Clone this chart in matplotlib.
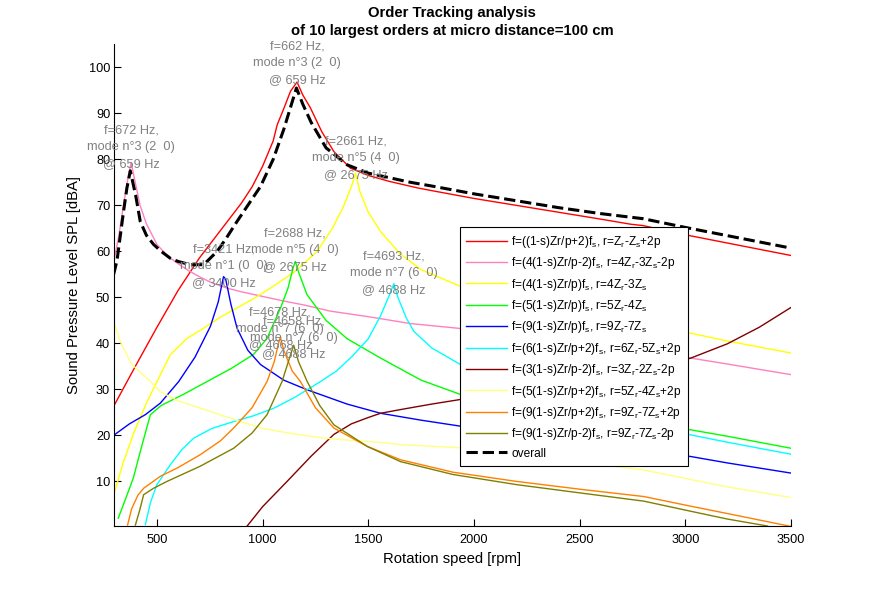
import matplotlib.pyplot as plt

plt.rcParams["font.family"] = ["Liberation Sans", "DejaVu Sans"]
plt.rcParams["mathtext.default"] = "regular"

# ---- data (rpm / dBA) ----
red_rpm = [295, 400, 500, 600, 700, 800, 900, 950, 1000, 1050, 1069, 1100, 1132, 1163,
           1190, 1226, 1280, 1337, 1415, 1500, 1600, 1732, 1800, 2000, 2200, 2400, 2600,
           2741, 2800, 3000, 3200, 3500]
red_db = [26.3, 35.2, 43.5, 51.5, 58.5, 64.5, 70.5, 74, 78.5, 84, 87.5, 91, 94.8, 96.8,
          94, 91.2, 86, 81.7, 78.1, 76.5, 75.2, 73.8, 73.2, 71.5, 70, 68.5, 67,
          65.9, 65.6, 63.6, 61.8, 59.1]

pink_rpm = [295, 320, 345, 365, 378, 395, 420, 450, 500, 550, 600, 650, 700, 753, 832,
            900, 1000, 1100, 1200, 1321, 1500, 1700, 2031, 2300, 2600, 2800, 3026, 3200, 3500]
pink_db = [57.5, 63.5, 71, 76.5, 79.3, 75.5, 70, 66, 61.5, 59, 57.3, 55.8, 54.5, 53.3, 52,
           51.2, 50.2, 49.2, 48.3, 47, 45.8, 44.3, 42.8, 41, 39.2, 38, 36.8, 35.5, 33.2]

yellow_rpm = [295, 340, 390, 450, 500, 563, 640, 721, 800, 879, 960, 1037, 1150, 1258,
              1330, 1380, 1420, 1440, 1460, 1500, 1558, 1650, 1750, 1936, 2200, 2500,
              2800, 3026, 3200, 3500]
yellow_db = [7, 14, 20.5, 27, 31.7, 37.5, 41, 43.3, 45.7, 47.7, 49.8, 52, 55.5, 60,
             65, 69.5, 74, 77, 73, 68.5, 64.3, 59.5, 56, 52.4, 48.5, 45.5,
             43.5, 42.2, 40.5, 37.9]

green_rpm = [317, 350, 388, 430, 469, 520, 625, 737, 850, 957, 1020, 1085, 1120, 1145,
             1155, 1170, 1210, 1300, 1400, 1558, 1750, 1936, 2200, 2500, 2800, 3026,
             3200, 3500]
green_db = [2, 6, 10.7, 18, 24.5, 26.5, 28.9, 31.7, 34.5, 37.6, 41, 47.7, 52, 56.5,
            57.8, 55.5, 50.6, 45, 41, 36.8, 32, 28.9, 26, 24, 22.3, 21.2,
            19.8, 17.2]

blue_rpm = [295, 370, 445, 516, 603, 680, 753, 790, 815, 825, 850, 879, 930, 990, 1100,
            1211, 1400, 1558, 1750, 1936, 2200, 2500, 2800, 3026, 3200, 3500]
blue_db = [20, 22.5, 24.5, 27, 31.7, 37, 43.7, 49, 54.5, 54, 48.5, 43.3, 38.5, 35.4, 32,
           29.9, 26.8, 24.8, 23.3, 22, 20.2, 18.3, 16.8, 15.4, 14, 11.8]

cyan_rpm = [445, 470, 500, 563, 620, 674, 760, 863, 960, 1053, 1150, 1274, 1350, 1424,
            1500, 1558, 1600, 1621, 1640, 1680, 1716, 1800, 1936, 2200, 2500, 2800,
            3026, 3200, 3500]
cyan_db = [0.6, 5.5, 9.3, 13.6, 17, 19.4, 21.5, 23, 24.3, 25.9, 28.2, 31.7, 34, 37.2,
           41, 46, 50.5, 53, 50, 45.5, 42.6, 39, 35.4, 30.5, 26.5, 22.5,
           20.1, 18.5, 15.9]

darkred_rpm = [927, 1000, 1116, 1230, 1337, 1420, 1495, 1558, 1652, 1800, 1936, 2200,
               2500, 2800, 3026, 3199, 3350, 3500]
darkred_db = [0.3, 4.5, 10, 15.5, 20.2, 22.5, 23.8, 24.8, 25.6, 26.8, 27.8, 29.5,
              31.5, 34, 36.8, 39.9, 43.5, 47.8]

lightyellow_rpm = [295, 330, 380, 469, 516, 600, 753, 863, 1000, 1150, 1289, 1450, 1558,
                   1652, 1936, 2200, 2500, 2800, 3026, 3200, 3500]
lightyellow_db = [44.8, 40, 35.5, 31.7, 29.5, 27.5, 25.2, 23.5, 21.5, 20.3, 19.4, 18.8,
                  18.5, 18, 17.3, 15.8, 14.2, 12.5, 10.4, 8.8, 6.5]

orange_rpm = [361, 380, 410, 437, 516, 600, 705, 800, 863, 950, 1021, 1055, 1075, 1084,
              1100, 1140, 1179, 1250, 1337, 1495, 1652, 1900, 2200, 2500, 2804, 3026,
              3200, 3500]
orange_db = [0.5, 4, 7, 8.5, 11.1, 13, 15.8, 18.8, 21.6, 26, 31.7, 36, 40, 41.4,
             38.5, 34, 31.7, 26, 21.6, 17.6, 14.7, 12, 10, 8.3, 6.7, 4.6,
             3, 0.2]

olive_rpm = [398, 420, 437, 484, 548, 705, 863, 950, 1021, 1092, 1125, 1147, 1170, 1211,
             1270, 1337, 1495, 1652, 1900, 2200, 2500, 2804, 3026, 3200, 3389]
olive_db = [0.5, 4, 7.1, 8.5, 10, 13.3, 17.2, 20.5, 24.5, 31.7, 36.5, 39.6, 36, 31.7,
            26.5, 22.3, 17.6, 14.3, 11.5, 9.3, 7.5, 5.7, 3.5, 1.8, 0.3]

overall_rpm = [295, 311, 342, 358, 374, 400, 421, 450, 484, 520, 563, 600, 658, 721, 785,
               830, 879, 930, 990, 1050, 1100, 1130, 1160, 1190, 1230, 1300, 1400, 1500,
               1600, 1700, 1800, 2000, 2200, 2400, 2600, 2800, 3000, 3200, 3500]
overall_db = [55, 58, 68.7, 73.8, 77.5, 72, 66.5, 63.5, 61.5, 60, 58.5, 57.8, 57.1, 57.1, 60,
              63, 66.5, 70, 74.1, 80, 86.5, 91, 95.5, 92, 88, 82.5, 78.8, 77,
              76, 75, 74.2, 72.5, 71, 69.5, 68.2, 67.1, 65.2, 63.4, 60.7]

labels = [
    r"f=((1-s)Zr/p+2)f$_s$, r=Z$_r$-Z$_s$+2p",
    r"f=(4(1-s)Zr/p-2)f$_s$, r=4Z$_r$-3Z$_s$-2p",
    r"f=(4(1-s)Zr/p)f$_s$, r=4Z$_r$-3Z$_s$",
    r"f=(5(1-s)Zr/p)f$_s$, r=5Z$_r$-4Z$_s$",
    r"f=(9(1-s)Zr/p)f$_s$, r=9Z$_r$-7Z$_s$",
    r"f=(6(1-s)Zr/p+2)f$_s$, r=6Z$_r$-5Z$_s$+2p",
    r"f=(3(1-s)Zr/p-2)f$_s$, r=3Z$_r$-2Z$_s$-2p",
    r"f=(5(1-s)Zr/p+2)f$_s$, r=5Z$_r$-4Z$_s$+2p",
    r"f=(9(1-s)Zr/p+2)f$_s$, r=9Z$_r$-7Z$_s$+2p",
    r"f=(9(1-s)Zr/p-2)f$_s$, r=9Z$_r$-7Z$_s$-2p",
]

# peak annotations: (series index, text)
peak_notes = [
    (1, "f=672 Hz,\nmode n°3 (2  0)\n@ 659 Hz"),
    (0, "f=662 Hz,\nmode n°3 (2  0)\n@ 659 Hz"),
    (2, "f=2661 Hz,\nmode n°5 (4  0)\n@ 2675 Hz"),
    (4, "f=3421 Hz,\nmode n°1 (0  0)\n@ 3400 Hz"),
    (3, "f=2688 Hz,\nmode n°5 (4  0)\n@ 2675 Hz"),
    (5, "f=4693 Hz,\nmode n°7 (6  0)\n@ 4688 Hz"),
    (8, "f=4678 Hz,\nmode n°7 (6  0)\n@ 4668 Hz"),
    (9, "f=4658 Hz,\nmode n°7 (6  0)\n@ 4688 Hz"),
]

series = [
    (red_rpm, red_db, "#ff0000"),
    (pink_rpm, pink_db, "#ff80c0"),
    (yellow_rpm, yellow_db, "#ffff00"),
    (green_rpm, green_db, "#00ff00"),
    (blue_rpm, blue_db, "#0000ff"),
    (cyan_rpm, cyan_db, "#00ffff"),
    (darkred_rpm, darkred_db, "#800000"),
    (lightyellow_rpm, lightyellow_db, "#ffff80"),
    (orange_rpm, orange_db, "#ff8000"),
    (olive_rpm, olive_db, "#808000"),
]

fig = plt.figure(figsize=(8.74, 5.91), dpi=100)
ax = fig.add_axes([0.13, 0.11, 0.775, 0.815])

for (x, y, c), lab in zip(series, labels):
    ax.plot(x, y, color=c, linewidth=1.0, label=lab)

ax.plot(overall_rpm, overall_db, color="black", linestyle="--",
        linewidth=2.2, label="overall")

# labels sit a little above each peak
for idx, txt in peak_notes:
    x, y, _ = series[idx]
    k = y.index(max(y))
    ax.text(x[k], y[k] * 1.042, txt, ha="center", va="center",
            color="#808080", fontsize=9.2, linespacing=1.5)

ax.set_xlim(295, 3500)
ax.set_ylim(0.3, 105)
ax.set_xticks(range(500, 3501, 500))
ax.set_yticks(range(10, 101, 10))
ax.spines["top"].set_visible(False)
ax.spines["right"].set_visible(False)
ax.tick_params(direction="in", length=5, labelsize=9.2, width=0.8)
ax.tick_params(axis="x", pad=6)
ax.tick_params(axis="y", pad=2.5)

ax.set_xlabel("Rotation speed [rpm]", fontsize=10.7)
ax.set_ylabel("Sound Pressure Level SPL [dBA]", fontsize=10.7)
ax.xaxis.set_label_coords(0.5, -0.055)
ax.yaxis.set_label_coords(-0.048, 0.5)
ax.set_title("Order Tracking analysis\nof 10 largest orders at micro distance=100 cm",
             fontsize=10.7, fontweight="bold", pad=7, linespacing=1.35)

leg = ax.legend(loc="upper left", bbox_to_anchor=(0.511, 0.62), borderaxespad=0,
                fontsize=8.6, handlelength=3.4, handletextpad=0.35,
                labelspacing=0.45, borderpad=0.55, fancybox=False, framealpha=1)
leg.get_frame().set_edgecolor("black")
leg.get_frame().set_linewidth(0.8)

plt.savefig("out.png", dpi=100)
